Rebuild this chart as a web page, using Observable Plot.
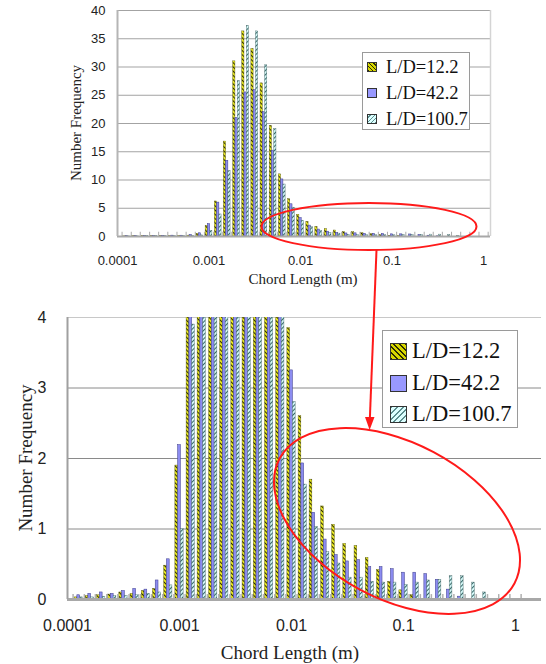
<!DOCTYPE html>
<html>
<head>
<meta charset="utf-8">
<script src="https://cdn.jsdelivr.net/npm/d3@7"></script>
<script src="https://cdn.jsdelivr.net/npm/@observablehq/plot@0.6"></script>
<style>
  html, body { margin: 0; padding: 0; background: #fff; }
  #wrap { position: relative; width: 546px; height: 664px; overflow: hidden; background: #fff; }
  .plot { position: absolute; left: 0; }
  .title { position: absolute; font-family: "Liberation Serif", "Times New Roman", serif; color: #222; white-space: nowrap; line-height: 1; }
  .legend { position: absolute; background: #fff; border: 1px solid #9a9a9a; box-sizing: border-box;
            font-family: "Liberation Serif", "Times New Roman", serif; color: #111; z-index: 3; }
  .legend .row { position: absolute; display: flex; align-items: center; white-space: nowrap; line-height: 1; }
  .sw { box-sizing: border-box; border: 1px solid #333; flex: none; }
  #anno { position: absolute; left: 0; top: 0; z-index: 5; pointer-events: none; }
</style>
</head>
<body>
<svg width="0" height="0" style="position:absolute">
  <defs>
    <pattern id="pY" patternUnits="userSpaceOnUse" width="3" height="3" patternTransform="rotate(-45)">
      <rect width="3" height="3" fill="#e8e820"></rect>
      <rect width="0.95" height="3" fill="#1e1e00"></rect>
    </pattern>
    <pattern id="pT" patternUnits="userSpaceOnUse" width="3" height="3" patternTransform="rotate(45)">
      <rect width="3" height="3" fill="#d2f6f6"></rect>
      <rect width="0.95" height="3" fill="#2e5e5e"></rect>
    </pattern>
  </defs>
</svg>
<div id="wrap"></div>
<script>
// ---------- data ----------
const chordLength = [0.0001, 0.000126, 0.000158, 0.0002, 0.000251, 0.000316, 0.000398, 0.000501, 0.000631, 0.000794,
                     0.001, 0.00126, 0.00158, 0.002, 0.00251, 0.00316, 0.00398, 0.00501, 0.00631, 0.00794,
                     0.01, 0.0126, 0.0158, 0.02, 0.0251, 0.0316, 0.0398, 0.0501, 0.0631, 0.0794,
                     0.1, 0.126, 0.158, 0.2, 0.251, 0.316, 0.398, 0.501, 0.631, 0.794, 1];
const ld12  = [0, 0.03, 0.05, 0.06, 0.07, 0.10, 0.08, 0.12, 0.15, 0.48,
               1.9, 6.2, 16.8, 31.0, 36.3, 33.2, 27.1, 19.6, 11.0, 6.6,
               3.85, 2.6, 1.7, 1.32, 1.06, 0.79, 0.76, 0.59, 0.42, 0.25,
               0.13, 0.06, 0, 0, 0, 0, 0, 0, 0, 0, 0];
const ld42  = [0, 0.06, 0.08, 0.10, 0.08, 0.12, 0.15, 0.14, 0.27, 0.57,
               2.19, 6.0, 13.4, 21.0, 25.5, 25.9, 22.0, 15.2, 10.1, 5.7,
               3.25, 1.93, 1.23, 0.85, 0.63, 0.54, 0.56, 0.46, 0.46, 0.43,
               0.38, 0.38, 0.36, 0.28, 0.14, 0.04, 0, 0, 0, 0, 0];
const ld100 = [0, 0.03, 0.03, 0.04, 0.05, 0.05, 0.06, 0.08, 0.10, 0.20,
               1.0, 3.9, 11.6, 27.5, 37.3, 36.3, 30.3, 19.0, 9.2, 5.1,
               2.8, 1.63, 1.03, 0.67, 0.51, 0.31, 0.31, 0.25, 0.24, 0.24,
               0.21, 0.24, 0.27, 0.28, 0.33, 0.33, 0.24, 0.10, 0, 0, 0];
const seriesNames = ["L/D=12.2", "L/D=42.2", "L/D=100.7"];
const xTickValues = [0.0001, 0.001, 0.01, 0.1, 1];
const xTickLabels = ["0.0001", "0.001", "0.01", "0.1", "1"];
const yTicksTop = [0, 5, 10, 15, 20, 25, 30, 35, 40];
const yTicksBottom = [0, 1, 2, 3, 4];

// ---------- build ----------
const seriesValues = [ld12, ld42, ld100];
const table = chordLength.map((c, i) => ({ c, v: seriesValues.map(s => s[i]) }));
const edges = chordLength.map(c => c * Math.pow(10, 0.05));

const barStyles = [
  { fill: "url(#pY)", stroke: "#5a5a10", strokeWidth: 0.4 },
  { fill: "#8c8cf0", stroke: "#3a3a8a", strokeWidth: 0.5 },
  { fill: "url(#pT)", stroke: "#4a6a6a", strokeWidth: 0.4 }
];
const barSpan = [[-0.037, -0.0125], [-0.0125, 0.0125], [0.0125, 0.037]];

function bars() {
  return seriesValues.map((s, j) => Plot.rect(table.filter(d => d.v[j] > 0), {
    x1: d => d.c * Math.pow(10, barSpan[j][0]),
    x2: d => d.c * Math.pow(10, barSpan[j][1]),
    y1: 0,
    y2: d => d.v[j],
    ...barStyles[j],
    clip: true
  }));
}
const fmtX = d => xTickLabels[xTickValues.indexOf(d)];
const fmtY = d => String(d);
const baseStyle = { fontFamily: "'Liberation Sans', Arial, sans-serif", color: "#222", background: "transparent", overflow: "visible" };

const topMax = 1.19;
const topPlot = Plot.plot({
  width: 546, height: 290,
  marginTop: 10, marginBottom: 54, marginLeft: 117, marginRight: 56,
  style: { ...baseStyle, fontSize: "13px" },
  x: { type: "log", domain: [1e-4, topMax], axis: null },
  y: { domain: [0, 40], axis: null },
  marks: [
    Plot.ruleY(yTicksTop.filter(v => v > 0), { stroke: "#a3a3a3", strokeWidth: 1 }),
    Plot.ruleX([topMax], { stroke: "#d4d4d4", strokeWidth: 1.5 }),
    ...bars(),
    Plot.ruleX(edges.filter(e => e < topMax), { y1: 0, y2: 0.75, stroke: "#aaa", strokeWidth: 1 }),
    Plot.ruleY([0], { stroke: "#a8a8a8", strokeWidth: 2 }),
    Plot.ruleX([1e-4], { stroke: "#b5b5b5", strokeWidth: 2 }),
    Plot.axisX(xTickValues, { tickSize: 0, tickPadding: 19, tickFormat: fmtX, fontSize: 13, label: null }),
    Plot.axisY(yTicksTop, { tickSize: 0, tickPadding: 12, tickFormat: fmtY, fontSize: 13, label: null })
  ]
});

const botMax = 1.706;
const botPlot = Plot.plot({
  width: 546, height: 364,
  marginTop: 17, marginBottom: 65, marginLeft: 67, marginRight: 5,
  style: { ...baseStyle, fontSize: "16px" },
  x: { type: "log", domain: [1e-4, botMax], axis: null },
  y: { domain: [0, 4], axis: null },
  marks: [
    Plot.ruleY([1, 2, 3], { stroke: "#8a8a8a", strokeWidth: 1 }),
    Plot.ruleY([4], { stroke: "#c8c8c8", strokeWidth: 1 }),
    ...bars(),
    Plot.ruleX(edges.filter(e => e < botMax), { y1: 0, y2: 0.07, stroke: "#b0b0b0", strokeWidth: 1.5 }),
    Plot.ruleY([0], { stroke: "#a8a8a8", strokeWidth: 3 }),
    Plot.ruleX([1e-4], { stroke: "#a0a0a0", strokeWidth: 2 }),
    Plot.axisX(xTickValues, { tickSize: 0, tickPadding: 20, tickFormat: fmtX, fontSize: 16, label: null }),
    Plot.axisY(yTicksBottom, { tickSize: 0, tickPadding: 21, tickFormat: fmtY, fontSize: 16, label: null })
  ]
});

const wrap = document.getElementById("wrap");
topPlot.classList.add("plot"); topPlot.style.top = "0px";
botPlot.classList.add("plot"); botPlot.style.top = "300px";
wrap.appendChild(topPlot);
wrap.appendChild(botPlot);

// titles
function addTitle(text, cx, cy, size, rotate) {
  const d = document.createElement("div");
  d.className = "title";
  d.textContent = text;
  d.style.fontSize = size + "px";
  d.style.left = cx + "px";
  d.style.top = cy + "px";
  d.style.transform = "translate(-50%,-50%)" + (rotate ? " rotate(-90deg)" : "");
  wrap.appendChild(d);
}
addTitle("Chord Length (m)", 303, 279, 15, false);
addTitle("Number Frequency", 76, 123, 15, true);
addTitle("Chord Length (m)", 290, 652, 19, false);
addTitle("Number Frequency", 25, 458, 19, true);

// legends
const swatchBg = [
  p => `repeating-linear-gradient(45deg, #2b2b00 0 ${p * 0.35}px, #d6d600 ${p * 0.35}px ${p}px)`,
  p => "#9999ff",
  p => `repeating-linear-gradient(-45deg, #5d8f8f 0 ${p * 0.35}px, #dcffff ${p * 0.35}px ${p}px)`
];
function addLegend(left, top, w, h, rowsY, sw, swLeft, textLeft, fontSize, period) {
  const box = document.createElement("div");
  box.className = "legend";
  Object.assign(box.style, { left: left + "px", top: top + "px", width: w + "px", height: h + "px" });
  seriesNames.forEach((name, j) => {
    const row = document.createElement("div");
    row.className = "row";
    row.style.left = swLeft + "px";
    row.style.top = (rowsY[j] - fontSize / 2) + "px";
    row.style.height = fontSize + "px";
    const s = document.createElement("div");
    s.className = "sw";
    Object.assign(s.style, { width: sw + "px", height: sw + "px", background: swatchBg[j](period) });
    const t = document.createElement("span");
    t.textContent = name;
    t.style.fontSize = fontSize + "px";
    t.style.marginLeft = (textLeft - swLeft - sw) + "px";
    row.appendChild(s); row.appendChild(t);
    box.appendChild(row);
  });
  wrap.appendChild(box);
}
addLegend(362, 52, 108, 78, [14, 40, 66], 10, 4, 23, 18.5, 3);
addLegend(382, 330, 136, 98, [20, 52, 83], 17, 7, 29, 22.5, 4);

// annotations (red ellipses and arrow)
const ns = "http://www.w3.org/2000/svg";
const anno = document.createElementNS(ns, "svg");
anno.setAttribute("id", "anno");
anno.setAttribute("width", 546);
anno.setAttribute("height", 664);
anno.innerHTML = `
  <ellipse cx="369" cy="226.5" rx="107.5" ry="23.5" fill="none" stroke="#ff1a1a" stroke-width="2"/>
  <ellipse cx="397" cy="521" rx="133" ry="78" transform="rotate(28 397 521)" fill="none" stroke="#ff1a1a" stroke-width="2"/>
  <line x1="376.5" y1="250" x2="369.8" y2="420" stroke="#ff1a1a" stroke-width="2"/>
  <polygon points="365,417 374.5,417 369.6,430" fill="#ff1a1a"/>
`;
wrap.appendChild(anno);
</script>
</body>
</html>
